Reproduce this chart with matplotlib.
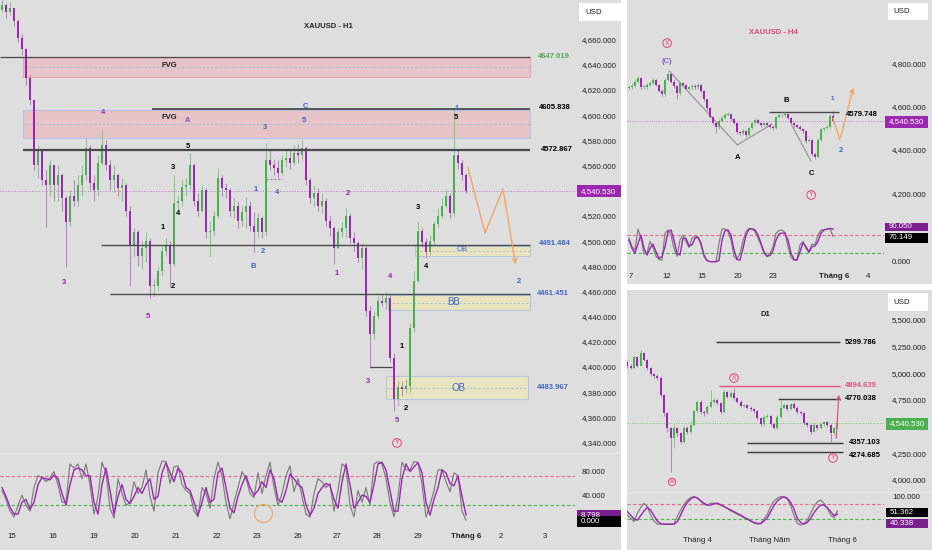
import numpy as np
import matplotlib
matplotlib.use('Agg')
import matplotlib.pyplot as plt
from matplotlib.patches import Rectangle
import matplotlib.transforms as mtrans

plt.rcParams['font.family'] = ['Liberation Sans', 'DejaVu Sans']

# ======================= DATA =======================
# ---- XAUUSD H1 ----
h1_first_open = 4684
h1_close = [4688, 4683, 4686, 4676, 4662, 4653, 4630, 4613, 4561, 4573,
            4549, 4545, 4561, 4545, 4553, 4535, 4516, 4537, 4533, 4545,
            4553, 4575, 4547, 4541, 4563, 4577, 4561, 4549, 4553, 4543,
            4545, 4525, 4497, 4508, 4489, 4495, 4501, 4465, 4465, 4477,
            4493, 4497, 4483, 4531, 4533, 4544, 4545, 4561, 4533, 4525,
            4541, 4508, 4509, 4521, 4551, 4543, 4541, 4525, 4529, 4517,
            4524, 4529, 4513, 4508, 4519, 4508, 4565, 4561, 4559, 4555,
            4565, 4567, 4563, 4571, 4569, 4575, 4549, 4535, 4539, 4529,
            4533, 4517, 4511, 4495, 4508, 4511, 4521, 4503, 4499, 4487,
            4495, 4445, 4427, 4441, 4453, 4452, 4456, 4408, 4375, 4385,
            4383, 4386, 4432, 4469, 4509, 4500, 4492, 4501, 4514, 4521,
            4529, 4537, 4523, 4569, 4563, 4553, 4540.53]
h1_high = [4692, 4690, 4691, 4686, 4677, 4665, 4654, 4633, 4614, 4577,
           4573, 4557, 4565, 4561, 4561, 4555, 4537, 4541, 4549, 4553,
           4561, 4583, 4577, 4553, 4569, 4589, 4581, 4565, 4561, 4555,
           4551, 4547, 4529, 4511, 4510, 4501, 4508, 4503, 4471, 4481,
           4497, 4503, 4501, 4553, 4537, 4549, 4551, 4571, 4563, 4539,
           4545, 4543, 4517, 4525, 4559, 4553, 4547, 4543, 4535, 4533,
           4529, 4536, 4533, 4524, 4523, 4521, 4579, 4574, 4566, 4565,
           4569, 4573, 4573, 4577, 4578, 4581, 4576, 4551, 4545, 4543,
           4539, 4535, 4521, 4513, 4511, 4516, 4527, 4523, 4508, 4501,
           4499, 4497, 4449, 4445, 4457, 4458, 4460, 4458, 4412, 4390,
           4390, 4391, 4436, 4477, 4516, 4511, 4503, 4506, 4517, 4527,
           4535, 4541, 4539, 4607, 4573, 4565, 4555]
h1_low = [4683, 4678, 4680, 4672, 4659, 4649, 4625, 4609, 4557, 4551,
          4545, 4512, 4537, 4533, 4533, 4525, 4480, 4513, 4529, 4529,
          4537, 4549, 4541, 4533, 4537, 4561, 4557, 4541, 4540, 4537,
          4533, 4521, 4465, 4489, 4481, 4479, 4484, 4456, 4457, 4461,
          4473, 4489, 4464, 4481, 4525, 4529, 4537, 4541, 4529, 4521,
          4524, 4503, 4489, 4505, 4519, 4537, 4535, 4521, 4519, 4511,
          4513, 4511, 4509, 4492, 4504, 4503, 4505, 4557, 4553, 4551,
          4553, 4560, 4558, 4561, 4563, 4565, 4545, 4531, 4529, 4525,
          4523, 4513, 4505, 4483, 4495, 4504, 4504, 4499, 4493, 4484,
          4479, 4441, 4400, 4423, 4439, 4449, 4447, 4405, 4366, 4370,
          4378, 4380, 4381, 4429, 4468, 4496, 4487, 4490, 4498, 4512,
          4519, 4527, 4519, 4521, 4558, 4549, 4539]
h1_stoch_k = [50, 35, 15, 5, 25, 42, 25, 15, 55, 75, 72, 65, 72, 82, 60, 30, 30, 95, 88, 95,
              70, 95, 60, 10, 40, 98, 80, 20, 3, 70, 45, 25, 30, 65, 45, 55, 85, 40, 15, 80,
              100, 99, 62, 90, 92, 60, 50, 45, 15, 5, 55, 45, 20, 70, 98, 75, 30, 2, 30, 55,
              82, 70, 45, 38, 80, 45, 75, 98, 55, 25, 45, 75, 92, 48, 70, 40, 10, 5, 45, 70,
              65, 55, 62, 15, 50, 95, 90, 25, 5, 50, 30, 55, 25, 95, 99, 95, 70, 30, 5, 40,
              98, 85, 85, 99, 98, 60, 5, 25, 50, 85, 85, 65, 48, 80, 75, 15, 0]
h1_stoch_d = [55, 40, 22, 10, 10, 30, 35, 18, 30, 60, 72, 70, 68, 76, 70, 45, 25, 60, 85, 88,
              85, 75, 75, 30, 10, 60, 88, 50, 10, 40, 60, 35, 28, 40, 55, 45, 60, 70, 35, 40,
              80, 97, 80, 65, 88, 80, 55, 50, 30, 8, 30, 55, 30, 35, 80, 88, 55, 20, 12, 40,
              60, 75, 55, 42, 50, 65, 55, 85, 70, 35, 30, 50, 78, 70, 60, 55, 25, 8, 20, 45,
              55, 62, 58, 35, 20, 65, 95, 60, 20, 30, 42, 40, 30, 60, 95, 98, 85, 50, 15, 15,
              70, 95, 82, 90, 97, 80, 30, 8, 35, 55, 85, 80, 62, 58, 75, 40, 8.798]
h1_date_pos = [2.5, 12.75, 23, 33.25, 43.5, 53.75, 63.75, 74, 83.75, 93.75, 104, 116, 124.75, 135.75]
h1_date_lbl = ['15', '16', '19', '20', '21', '22', '23', '26', '27', '28', '29', 'Tháng 6', '2', '3']
h1_price_ticks = [4340, 4360, 4380, 4400, 4420, 4440, 4460, 4480, 4500, 4520, 4560, 4580, 4600, 4620, 4640, 4660]
h1_levels = [4647.019, 4605.838, 4572.867, 4497.8, 4458.5, 4383.967]
h1_level_text = ['4647.019', '4605.838', '4572.867', '4491.484', '4461.451', '4483.967']
last_price = 4540.53

# ---- XAUUSD H4 ----
h4_first_open = 4690
h4_close = [4694, 4700, 4720, 4735, 4694, 4694, 4703, 4715, 4728, 4704,
            4678, 4661, 4728, 4755, 4720, 4700, 4666, 4712, 4704, 4688,
            4694, 4700, 4694, 4703, 4678, 4638, 4597, 4558, 4531, 4509,
            4540, 4552, 4566, 4571, 4546, 4531, 4488, 4481, 4494, 4474,
            4505, 4528, 4543, 4531, 4520, 4528, 4518, 4512, 4505, 4555,
            4566, 4564, 4569, 4552, 4528, 4518, 4512, 4503, 4492, 4445,
            4451, 4386, 4374, 4451, 4500, 4505, 4512, 4561, 4540.53]
h4_high = [4705, 4712, 4730, 4748, 4740, 4705, 4712, 4722, 4738, 4732,
           4710, 4685, 4735, 4765, 4760, 4726, 4705, 4718, 4718, 4710,
           4702, 4710, 4708, 4712, 4708, 4682, 4642, 4602, 4562, 4536,
           4548, 4560, 4574, 4582, 4576, 4552, 4536, 4494, 4502, 4498,
           4512, 4535, 4552, 4548, 4536, 4536, 4533, 4524, 4518, 4562,
           4574, 4572, 4577, 4574, 4556, 4534, 4524, 4518, 4508, 4496,
           4462, 4456, 4392, 4458, 4508, 4512, 4520, 4570, 4586]
h4_low = [4680, 4688, 4695, 4712, 4688, 4684, 4688, 4698, 4710, 4698,
          4670, 4652, 4655, 4722, 4712, 4692, 4638, 4660, 4698, 4680,
          4682, 4688, 4686, 4688, 4670, 4630, 4590, 4550, 4522, 4481,
          4502, 4534, 4546, 4560, 4540, 4524, 4480, 4472, 4476, 4466,
          4468, 4500, 4522, 4524, 4512, 4514, 4510, 4505, 4496, 4500,
          4550, 4558, 4558, 4546, 4522, 4510, 4505, 4496, 4484, 4438,
          4440, 4378, 4362, 4368, 4446, 4494, 4500, 4506, 4528]
h4_stoch_k = [65, 42, 33, 90, 65, 22, 24, 56, 40, 16, 7, 5, 79, 88, 74, 37, 16, 60, 74, 56,
              40, 65, 71, 68, 47, 15, 4, 1, 1, 1, 51, 91, 90, 83, 60, 15, 7, 24, 58, 83,
              92, 91, 83, 65, 47, 24, 15, 22, 42, 79, 86, 88, 80, 42, 13, 5, 7, 47, 56, 37,
              26, 49, 47, 74, 88, 88, 90, 92, 70.149]
h4_stoch_d = [60, 37, 24, 51, 74, 37, 19, 37, 49, 28, 10, 15, 42, 83, 88, 60, 24, 19, 65, 65,
              44, 47, 65, 68, 51, 19, 4, 1, 1, 1, 4, 60, 86, 88, 74, 33, 7, 5, 37, 74,
              90, 91, 88, 74, 51, 28, 16, 18, 31, 60, 77, 79, 79, 60, 24, 7, 5, 28, 53, 42,
              28, 42, 44, 56, 79, 88, 90, 92, 90.05]
h4_date_pos = [0.67, 12.7, 24.3, 36.3, 48, 68.3, 79.7]
h4_date_lbl = ['7', '12', '15', '20', '23', 'Tháng 6', '4']
h4_price_ticks = [4200, 4400, 4600, 4800]
h4_level = 4579.748

# ---- XAUUSD D1 ----
d1_first_open = 5118
d1_close = [5081, 5062, 5165, 5081, 5196, 5134, 5056, 5000, 4987, 4968,
            4806, 4634, 4494, 4400, 4494, 4447, 4369, 4500, 4462, 4525,
            4656, 4744, 4650, 4634, 4697, 4737, 4759, 4728, 4644, 4831,
            4790, 4822, 4775, 4744, 4706, 4712, 4687, 4675, 4656, 4587,
            4531, 4603, 4612, 4531, 4500, 4603, 4687, 4712, 4675, 4718,
            4687, 4644, 4634, 4540, 4525, 4462, 4525, 4494, 4531, 4550,
            4525, 4447, 4494, 4540.53]
d1_high = [5135, 5100, 5180, 5175, 5228, 5205, 5145, 5065, 5015, 5000,
           4980, 4815, 4650, 4510, 4530, 4510, 4460, 4520, 4515, 4560,
           4670, 4760, 4755, 4670, 4715, 4850, 4775, 4770, 4740, 4853,
           4845, 4840, 4868, 4790, 4755, 4725, 4720, 4700, 4685, 4665,
           4600, 4615, 4625, 4620, 4545, 4615, 4759, 4730, 4725, 4730,
           4744, 4700, 4655, 4645, 4555, 4535, 4540, 4535, 4545, 4565,
           4560, 4535, 4505, 4587]
d1_low = [5060, 5045, 5055, 5070, 5075, 5120, 5040, 4985, 4970, 4950,
          4790, 4610, 4460, 4088, 4306, 4420, 4345, 4360, 4445, 4450,
          4515, 4640, 4630, 4610, 4625, 4690, 4725, 4715, 4630, 4638,
          4775, 4780, 4760, 4730, 4690, 4695, 4675, 4660, 4640, 4570,
          4515, 4520, 4590, 4515, 4485, 4490, 4595, 4680, 4660, 4665,
          4675, 4630, 4620, 4525, 4505, 4445, 4455, 4480, 4485, 4520,
          4510, 4369, 4435, 4485]
d1_stoch_k = [37, 26, 15, 43, 62, 77, 66, 37, 17, 6, 6, 6, 6, 6, 8, 32, 54, 73, 88, 96,
              100, 94, 85, 73, 71, 77, 77, 77, 73, 66, 60, 51, 46, 40, 35, 28, 24, 17, 10, 6,
              8, 24, 40, 66, 85, 94, 100, 98, 92, 69, 35, 9, 3, 9, 20, 43, 66, 82, 88, 77,
              60, 37, 28, 51.362]
d1_stoch_d = [49, 37, 24, 20, 35, 51, 63, 54, 35, 17, 8, 6, 6, 6, 6, 15, 37, 62, 80, 92,
              98, 96, 85, 77, 71, 71, 75, 77, 71, 66, 60, 54, 49, 42, 37, 30, 24, 17, 12, 9,
              8, 17, 28, 49, 69, 85, 94, 99, 94, 80, 58, 26, 12, 6, 12, 26, 45, 60, 71, 71,
              62, 49, 35, 40.338]
d1_date_pos = [21, 42.5, 64.4]
d1_date_lbl = ['Tháng 4', 'Tháng Năm', 'Tháng 6']
d1_price_ticks = [4000, 4250, 4750, 5000, 5250, 5500]
d1_levels = [5299.786, 4894.639, 4770.038, 4357.103, 4274.685]

# ======================= STYLE / HELPERS =======================
W, H = 932, 550
BG = '#dedede'
UP, DN = '#4caf50', '#9c27b0'
UPW, DNW = '#80cb80', '#bd80c9'
PURPLE = '#9c27b0'
BLUE = '#3f67c6'
PINK = '#e8457a'
ORANGE = '#f2a565'
GREEN = '#4caf50'
GRAYK = '#7d7d7d'
TXT = '#222222'
FS = 5.7

fig = plt.figure(figsize=(W / 100, H / 100), dpi=100)
fig.patch.set_facecolor('white')


def frect(x0, y0, x1, y1, fc, z=-5, ec='none', lw=0):
    fig.add_artist(Rectangle((x0 / W, 1 - y1 / H), (x1 - x0) / W, (y1 - y0) / H,
                             transform=fig.transFigure, fc=fc, ec=ec, lw=lw, zorder=z))


def ftext(x, y, s, **kw):
    kw.setdefault('va', 'center')
    kw.setdefault('ha', 'left')
    kw.setdefault('fontsize', FS)
    kw.setdefault('color', TXT)
    fig.text(x / W, 1 - y / H, s, **kw)


def new_ax(x0, y0, x1, y1, xlim, ylim):
    ax = fig.add_axes([x0 / W, 1 - y1 / H, (x1 - x0) / W, (y1 - y0) / H])
    ax.set_xlim(*xlim)
    ax.set_ylim(*ylim)
    ax.axis('off')
    return ax


def ypx(ax, v):
    return H - ax.transData.transform((0, v))[1]


def xpx(ax, v):
    return ax.transData.transform((v, 0))[0]


def candles(ax, first_open, closes, highs, lows, width):
    closes = np.array(closes, float)
    opens = np.concatenate([[first_open], closes[:-1]])
    xs = np.arange(len(closes))
    up = closes >= opens
    y0, y1 = ax.get_ylim()
    pos = ax.get_position()
    min_h = (y1 - y0) / (pos.height * H) * 0.9
    ax.vlines(xs, lows, highs, colors=[UPW if u else DNW for u in up], lw=0.75, zorder=2)
    ax.bar(xs, np.maximum(np.abs(closes - opens), min_h), width=width,
           bottom=np.minimum(opens, closes), color=[UP if u else DN for u in up],
           linewidth=0, zorder=3)


def stoch(ax, k, d):
    ax.axhline(75, color='#f0678f', ls=(0, (3, 2)), lw=0.8, zorder=1)
    ax.axhline(25, color='#45b845', ls=(0, (3, 2)), lw=0.8, zorder=1)
    ax.plot(np.arange(len(k)), k, color=GRAYK, lw=0.85, zorder=3)
    ax.plot(np.arange(len(d)), d, color=PURPLE, lw=1.0, zorder=4)


def wave(ax, s, x, y, color, fs=5.5, circle=False):
    kw = dict(ha='center', va='center', fontsize=fs, color=color, fontweight='bold', zorder=6)
    if circle:
        kw['bbox'] = dict(boxstyle='circle,pad=0.12', fc='none', ec=PINK, lw=0.7)
        kw['fontweight'] = 'normal'
    ax.text(x, y, s, **kw)


def valbox(x0, x1, yc, h, fc, s, tc='white'):
    frect(x0, yc - h / 2, x1, yc + h / 2, fc, z=5)
    ftext(x0 + 4, yc, s, color=tc, zorder=6)


# ======================= BACKGROUNDS =======================
frect(0, 0, 621, 550, BG)
frect(627, 0, 932, 284, BG)
frect(627, 290, 932, 550, BG)
frect(0, 452.5, 621, 453.5, '#e8e8e8', z=-4)
frect(627, 221.5, 932, 222.5, '#e8e8e8', z=-4)
frect(627, 491.5, 932, 492.5, '#e8e8e8', z=-4)

# ======================= MAIN H1 =======================
XL = (-0.5, 143.25)
axm = new_ax(0, 0, 575, 453, XL, (4332.5, 4692.3))
axs = new_ax(0, 453, 575, 527, XL, (-11.9, 113.6))

zones = [  # x0, x1, p0, p1, face, edge, mid
    (5.25, 132, 4631, 4647, '#e6c3c6', '#e4a9b0', 4639),
    (5.25, 132, 4582.5, 4605, '#e6c3c6', '#b7c3e6', 4594),
    (103.25, 132, 4489, 4497, '#e9e4bf', '#b8c6e6', 4493),
    (96.5, 132, 4446, 4458, '#e9e4bf', '#b8c6e6', 4452),
    (96, 131.5, 4375.3, 4393.5, '#e9e4bf', '#b8c6e6', 4384),
]
for x0, x1, p0, p1, fc, ec, mid in zones:
    axm.add_patch(Rectangle((x0, p0), x1 - x0, p1 - p0, fc=fc, ec=ec, lw=0.8, zorder=1))
    axm.hlines(mid, x0, x1, colors='#a9bfd6', linestyles=(0, (3, 2)), lw=0.6, zorder=1)

axm.hlines(h1_levels[0], -0.5, 132, colors='#4a4a4a', lw=0.9, zorder=4)
axm.hlines(h1_levels[1], 37.5, 132, colors='#4a4a4a', lw=1.3, zorder=4)
axm.hlines(h1_levels[2], 5.25, 132, colors='#4a4a4a', lw=1.6, zorder=4)
axm.hlines(h1_levels[3], 24.75, 132, colors='#4a4a4a', lw=1.0, zorder=4)
axm.hlines(h1_levels[4], 27, 132, colors='#4a4a4a', lw=1.0, zorder=4)
axm.hlines(4400.9, 92, 97.5, colors='#4a4a4a', lw=0.9, zorder=4)
axm.hlines(4550, 66, 70, colors='#8f8f8f', linestyles=(0, (2, 1.5)), lw=0.8, zorder=4)

axm.axhline(last_price, color='#c27fcc', ls=(0, (1, 1.5)), lw=0.7, zorder=1)

candles(axm, h1_first_open, h1_close, h1_high, h1_low, 0.55)

axm.plot([116.5, 120.75, 125.25], [4559, 4507.3, 4542.3], color=ORANGE, lw=1.0, zorder=5)
axm.annotate('', xy=(128.5, 4480.3), xytext=(125.25, 4542.3),
             arrowprops=dict(arrowstyle='->', color=ORANGE, lw=1.0, mutation_scale=7), zorder=5)

waves_h1 = [
    ('4', 25.25, 4602.6, PURPLE), ('3', 15.5, 4468.3, PURPLE), ('5', 36.5, 4441.3, PURPLE),
    ('2', 86.5, 4539.0, PURPLE), ('1', 83.75, 4474.7, PURPLE), ('4', 97, 4472.3, PURPLE),
    ('3', 91.5, 4388.9, PURPLE), ('5', 98.75, 4358.0, PURPLE),
    ('1', 40.25, 4512.0, 'black'), ('3', 42.75, 4558.9, 'black'), ('5', 46.5, 4575.6, 'black'),
    ('4', 44, 4523.1, 'black'), ('2', 42.75, 4464.4, 'black'), ('1', 100, 4416.8, 'black'),
    ('2', 101, 4367.5, 'black'), ('3', 104, 4527.1, 'black'), ('4', 106, 4480.3, 'black'),
    ('5', 113.5, 4598.6, 'black'),
    ('A', 46.5, 4596.2, '#6f62c9'), ('B', 62.75, 4480.3, BLUE), ('C', 75.75, 4608.1, BLUE),
    ('1', 63.5, 4541.4, BLUE), ('2', 65.25, 4492.2, BLUE), ('3', 65.75, 4590.7, BLUE),
    ('4', 68.75, 4539.8, BLUE), ('5', 75.5, 4596.2, BLUE), ('1', 113.75, 4606.5, BLUE),
    ('2', 129.25, 4469.1, BLUE),
]
for s, x, y, c in waves_h1:
    wave(axm, s, x, y, c)
wave(axm, 'Y', 98.75, 4340.5, PINK, fs=5, circle=True)
axm.text(41.75, 4639.9, 'FVG', ha='center', va='center', fontsize=5.5, fontweight='bold', color='#222', zorder=6)
axm.text(41.75, 4598.6, 'FVG', ha='center', va='center', fontsize=5.5, fontweight='bold', color='#222', zorder=6)
axm.text(115, 4493.8, 'OB', ha='center', va='center', fontsize=5.5, color=BLUE, zorder=6)
axm.text(113, 4452.3, 'BB', ha='center', va='center', fontsize=7, color=BLUE, zorder=6)
axm.text(114, 4384.5, 'OB', ha='center', va='center', fontsize=7, color=BLUE, zorder=6)
axm.text(81.5, 4670.9, 'XAUUSD - H1', ha='center', va='center', fontsize=5.5, fontweight='bold', color='#222', zorder=6)

lvl_x = [538, 539, 541, 539, 537, 537]
lvl_c = [GREEN, 'black', 'black', BLUE, BLUE, BLUE]
for p, t, xx, c in zip(h1_levels, h1_level_text, lvl_x, lvl_c):
    ftext(xx, ypx(axm, p) - 1, t, color=c, fontsize=5.5, fontweight='bold')

for p in h1_price_ticks:
    ftext(582, ypx(axm, p), f'{p:,}.000')
frect(579, 3, 621, 21, 'white', z=5)
ftext(585, 12, 'USD', zorder=6)
valbox(577, 621, ypx(axm, last_price), 12, PURPLE, '4,540.530')

stoch(axs, h1_stoch_k, h1_stoch_d)
axs.plot([65.25], [11.4], marker='o', ms=13, mfc='none', mec=ORANGE, mew=0.8, zorder=5)
ftext(582, ypx(axs, 80), '80.000')
ftext(582, ypx(axs, 40), '40.000')
valbox(577, 621, ypx(axs, 8.798) + 0.5, 11, '#7b1f8f', '8.798')
valbox(577, 621, ypx(axs, 0) + 1.5, 11, 'black', '0.000')

for p, l in zip(h1_date_pos, h1_date_lbl):
    ftext(xpx(axm, p), 537, l, ha='center',
          fontweight='bold' if l.startswith('Th') else 'normal')

# ======================= H4 =======================
XL4 = (-0.667, 85)
ax4 = new_ax(627, 0, 884, 222, XL4, (4072.2, 5096.8))
ax4s = new_ax(627, 222, 884, 268, XL4, (-16.4, 109.6))

ax4.axhline(last_price, color='#c27fcc', ls=(0, (1, 1.5)), lw=0.7, zorder=1)
ax4.hlines(h4_level, 46.7, 70, colors='#4a4a4a', lw=1.0, zorder=4)
ax4.plot([13.4, 36.1, 47.6], [4769, 4428, 4524], color='#9a9a9a', lw=0.9, zorder=1)
ax4.plot([54.2, 60.6], [4520, 4355], color='#9a9a9a', lw=0.9, zorder=1)
candles(ax4, h4_first_open, h4_close, h4_high, h4_low, 0.6)
ax4.plot([68, 70.3], [4551, 4451], color=ORANGE, lw=1.0, zorder=5)
ax4.annotate('', xy=(75, 4704), xytext=(70.3, 4451),
             arrowprops=dict(arrowstyle='->', color=ORANGE, lw=1.0, mutation_scale=7), zorder=5)

ax4.text(48, 4949, 'XAUUSD - H4', ha='center', va='center', fontsize=5.5, fontweight='bold', color=PINK)
wave(ax4, 'X', 12.7, 4898, PINK, fs=5, circle=True)
wave(ax4, '(C)', 12.7, 4815, '#8a5cd0')
wave(ax4, 'A', 36.3, 4367.6, 'black')
wave(ax4, 'B', 52.3, 4635, 'black')
wave(ax4, 'C', 60.7, 4298, 'black')
wave(ax4, 'Y', 60.7, 4197, PINK, fs=5, circle=True)
wave(ax4, '1', 67.7, 4640, BLUE, fs=4.5)
wave(ax4, '2', 70.7, 4400, BLUE)
ftext(846, ypx(ax4, h4_level) + 2, f'{h4_level:.3f}', color='black', fontsize=5.5, fontweight='bold')

for p in h4_price_ticks:
    ftext(892, ypx(ax4, p), f'{p:,}.000')
frect(888, 3, 928, 20, 'white', z=5)
ftext(893, 11.5, 'USD', zorder=6)
valbox(885, 928, ypx(ax4, last_price) + 1, 12, PURPLE, '4,540.530')

stoch(ax4s, h4_stoch_k, h4_stoch_d)
ftext(892, ypx(ax4s, 0), '0.000')
valbox(885, 928, 226.5, 8, '#7b1f8f', '90.050')
valbox(885, 928, 237.7, 10, 'black', '70.149')
frect(627, 222, 932, 223, BG, z=5.5)

for p, l in zip(h4_date_pos, h4_date_lbl):
    ftext(xpx(ax4, p), 276, l, ha='center',
          fontweight='bold' if l.startswith('Th') else 'normal')

# ======================= D1 =======================
XLD = (-0.1, 77.0)
axd = new_ax(627, 290, 884, 492, XLD, (3897, 5790))
axds = new_ax(627, 492, 884, 528, XLD, (-6.8, 115.3))

axd.axhline(last_price, color='#7fc77f', ls=(0, (1, 1.5)), lw=0.7, zorder=1)
d1_x0 = [26.6, 27.5, 45.2, 35.8, 35.8]
d1_x1 = [63.8, 63.8, 63.8, 64.7, 64.7]
d1_col = ['#3a3a3a', '#e0577f', '#3a3a3a', '#3a3a3a', '#3a3a3a']
for p, a, b, c in zip(d1_levels, d1_x0, d1_x1, d1_col):
    axd.hlines(p, a, b, colors=c, lw=1.0, zorder=4)
candles(axd, d1_first_open, d1_close, d1_high, d1_low, 0.62)
axd.annotate('', xy=(63.5, 4834), xytext=(62.6, 4375),
             arrowprops=dict(arrowstyle='->', color='#e0577f', lw=0.9, mutation_scale=7), zorder=5)

axd.text(41.5, 5565, 'D1', ha='center', va='center', fontsize=5.5, fontweight='bold', color='#222')
wave(axd, 'X', 32, 4965, PINK, fs=5, circle=True)
wave(axd, 'W', 13.4, 3991, PINK, fs=4.5, circle=True)
wave(axd, 'Y', 61.7, 4216, PINK, fs=5, circle=True)

lbl_x = [845, 845, 845, 849, 849]
lbl_dy = [0, 0, 0, 0, 4]
lbl_c = ['black', '#e0577f', 'black', 'black', 'black']
for p, xx, dy, c in zip(d1_levels, lbl_x, lbl_dy, lbl_c):
    ftext(xx, ypx(axd, p) + dy, f'{p:.3f}', color=c, fontsize=5.5, fontweight='bold')

for p in d1_price_ticks:
    ftext(892, ypx(axd, p), f'{p:,}.000')
frect(888, 293, 928, 311, 'white', z=5)
ftext(893, 302, 'USD', zorder=6)
valbox(886, 928, ypx(axd, last_price) + 0.5, 12, GREEN, '4,540.530')

stoch(axds, d1_stoch_k, d1_stoch_d)
ftext(892, 497.3, '100.000')
valbox(886, 928, 512, 9, 'black', '51.362')
valbox(886, 928, 523.5, 9, '#7b1f8f', '40.338')

for p, l in zip(d1_date_pos, d1_date_lbl):
    ftext(xpx(axd, p), 540, l, ha='center')

fig.savefig('out.png', dpi=100, facecolor='white')
